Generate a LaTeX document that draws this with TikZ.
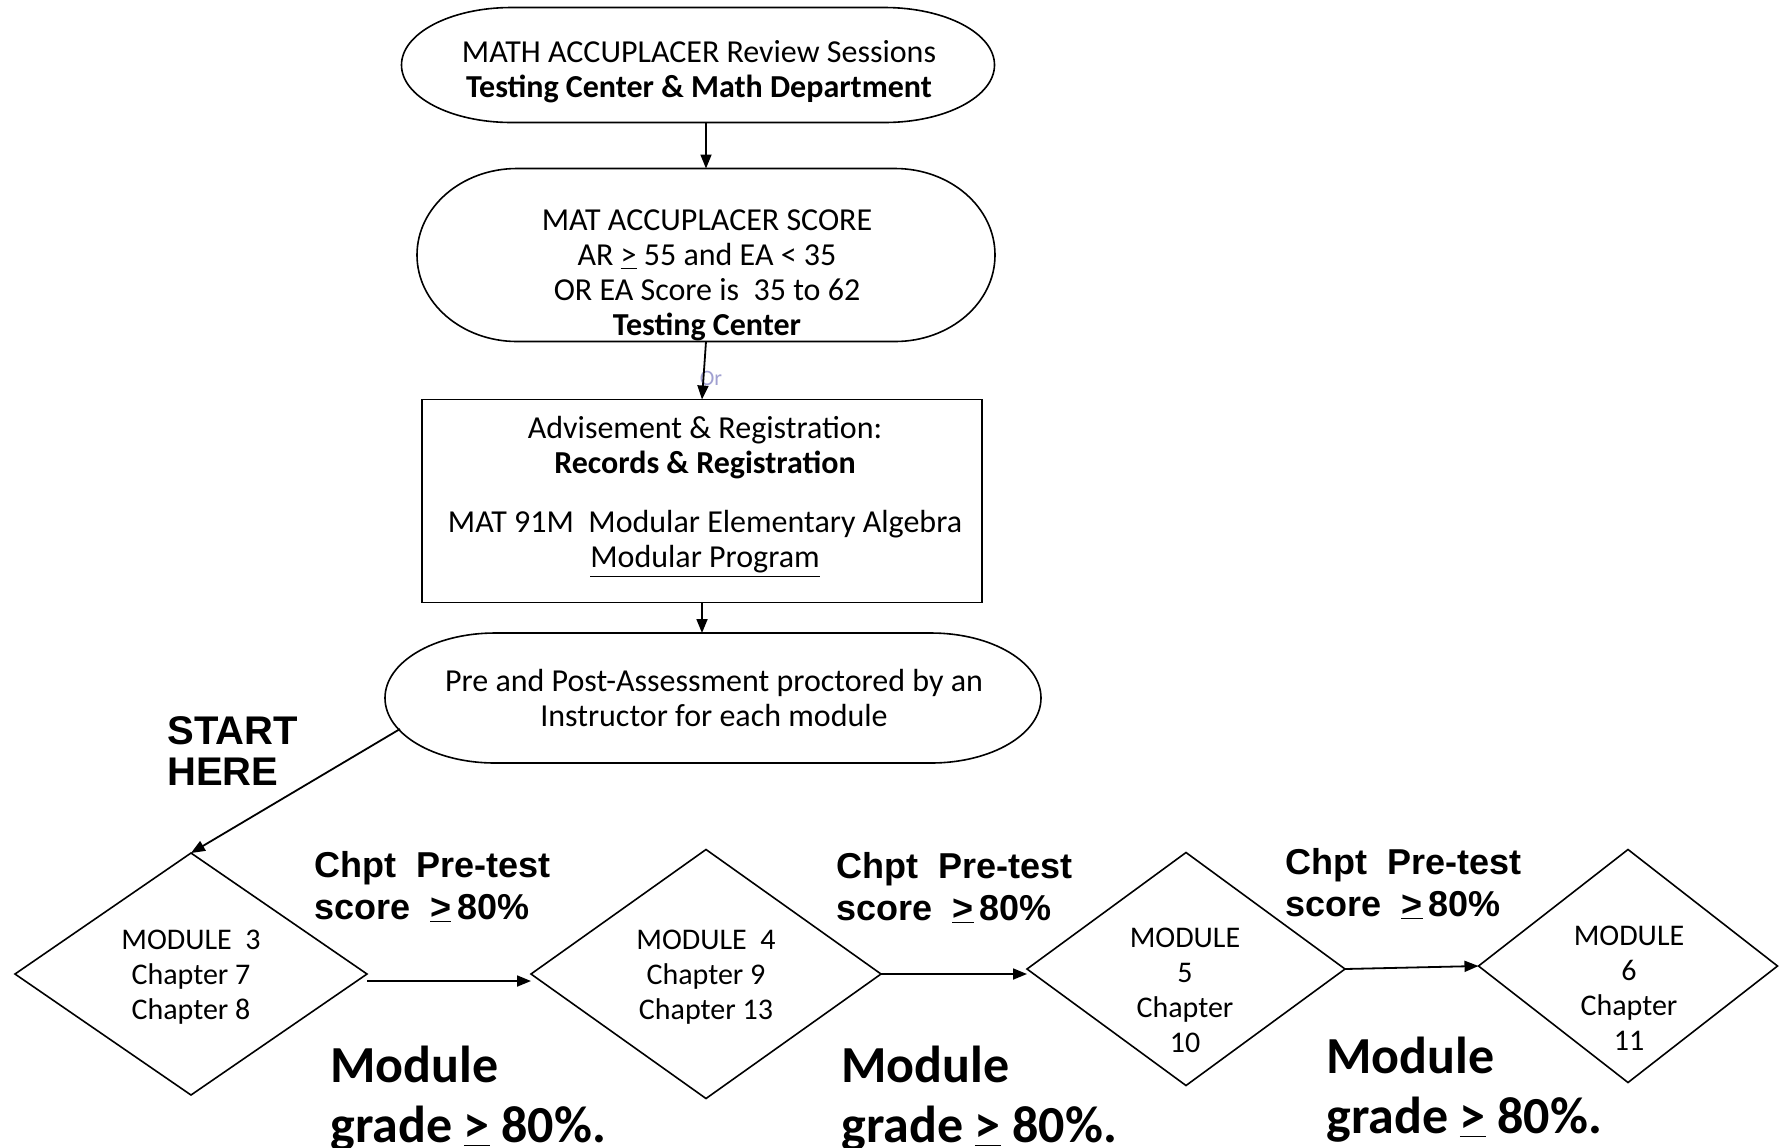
\documentclass[tikz,border=0pt]{standalone}
\usepackage{fontspec}
\setmainfont{Carlito}
\newfontfamily\arialf{Liberation Sans}
\usetikzlibrary{shapes.geometric,arrows.meta,calc}
\newcommand\termdraw[3]{%
  \draw[outline] ([xshift=#2]#1.north west) -- ([xshift=-#2]#1.north east)
    arc[start angle=90,end angle=-90,x radius=#2,y radius=#3]
    -- ([xshift=#2]#1.south west)
    arc[start angle=270,end angle=90,x radius=#2,y radius=#3] -- cycle;}
\begin{document}
\begin{tikzpicture}[x=0.5pt,y=-0.5pt,
  shp/.style={draw=none,inner sep=0,outer sep=0},
  dia/.style={draw,diamond,line width=0.8pt,inner sep=0,outer sep=0},
  body/.style={font=\fontsize{16}{17.5}\selectfont,align=center,inner sep=0},
  modt/.style={font=\fontsize{15}{17.5}\selectfont,align=center,inner sep=0},
  chpt/.style={font=\arialf\bfseries\fontsize{18}{21}\selectfont,align=left,anchor=west,inner sep=0},
  grade/.style={font=\bfseries\fontsize{26}{30}\selectfont,align=left,anchor=west,inner sep=0},
  start/.style={font=\arialf\bfseries\fontsize{20}{20.5}\selectfont,align=left,anchor=west,inner sep=0},
  arr/.style={line width=0.9pt,-{Triangle[length=7pt,width=5.5pt]}},
  outline/.style={line width=0.8pt}]
\fill[white] (0,0) rectangle (1783,1147);
\useasboundingbox (0,0) rectangle (1783,1147);

% terminators and box
\node[shp,minimum width=296.5pt,minimum height=57.5pt] (t1) at (698,65) {};
\termdraw{t1}{55pt}{28.75pt}
\node[body] (t1x) at (699,72) {MATH ACCUPLACER Review Sessions\\ \textbf{Testing Center \& Math Department}};

\node[shp,minimum width=289pt,minimum height=86.5pt] (t2) at (706,255) {};
\termdraw{t2}{50pt}{43.25pt}
\node[body] (t2x) at (707,275.5) {MAT ACCUPLACER SCORE\\ AR \underline{>} 55 and EA {<} 35\\ OR EA Score is\ \ 35 to 62\\ \textbf{Testing Center}};

\node[draw,line width=0.8pt,minimum width=280pt,minimum height=101.5pt,inner sep=0,outer sep=0] (r1) at (702,501) {};
\node[body] (r1x) at (705,497) {Advisement \& Registration:\\ \textbf{Records \& Registration}\\[12pt] MAT 91M\ \ Modular Elementary Algebra\\ \underline{Modular Program}};

\node[shp,minimum width=328pt,minimum height=65pt] (t3) at (713,698) {};
\termdraw{t3}{55pt}{32.5pt}
\node[body] (t3x) at (714,698) {Pre and Post-Assessment proctored by an\\ Instructor for each module};

\node[font=\fontsize{11}{11}\selectfont,text=blue!35!gray!55,inner sep=0] (or) at (711,378) {Or};

% diamonds
\node[dia,minimum width=176pt,minimum height=121pt] (m3) at (191,974) {};
\node[modt] (m3x) at (191,977) {MODULE\ \ 3\\ Chapter 7\\ Chapter 8};
\node[dia,minimum width=175pt,minimum height=124.5pt] (m4) at (706,974) {};
\node[modt] (m4x) at (706,977) {MODULE\ \ 4\\ Chapter 9\\ Chapter 13};
\node[dia,minimum width=159pt,minimum height=116.5pt] (m5) at (1186,969) {};
\node[modt] (m5x) at (1185,990) {MODULE\\ 5\\ Chapter\\ 10};
\node[dia,minimum width=149.5pt,minimum height=116.5pt] (m6) at (1628,966) {};
\node[modt] (m6x) at (1629,988) {MODULE\\ 6\\ Chapter\\ 11};

% labels
\node[start] (st) at (167,751) {START\\ HERE};
\node[chpt] (c1) at (314,887) {Chpt\ \ Pre-test\\ score\ \ \underline{>}\,80\%};
\node[chpt] (c2) at (836,888) {Chpt\ \ Pre-test\\ score\ \ \underline{>}\,80\%};
\node[chpt] (c3) at (1285,884) {Chpt\ \ Pre-test\\ score\ \ \underline{>}\,80\%};
\node[grade] (g1) at (330,1099) {Module\\ grade \underline{>} 80\%.};
\node[grade] (g2) at (841,1099) {Module\\ grade \underline{>} 80\%.};
\node[grade] (g3) at (1326,1090) {Module\\ grade \underline{>} 80\%.};

% connectors
\draw[arr] (t2.north |- t1.south) -- (t2.north);
\draw[arr] (t2.south) -- (r1.north);
\draw[arr] (r1.south) -- (r1.south |- t3.north);
\draw[arr] ([xshift=7.5pt,yshift=17pt]t3.south west) -- (m3.north);
\draw[arr] ([yshift=-3.5pt]m3.east) -- ([yshift=-3.5pt]m4.west);
\draw[arr] (m4.east) -- (m4.east -| m5.west);
\draw[arr] (m5.east) -- (m6.west);
\end{tikzpicture}
\end{document}
